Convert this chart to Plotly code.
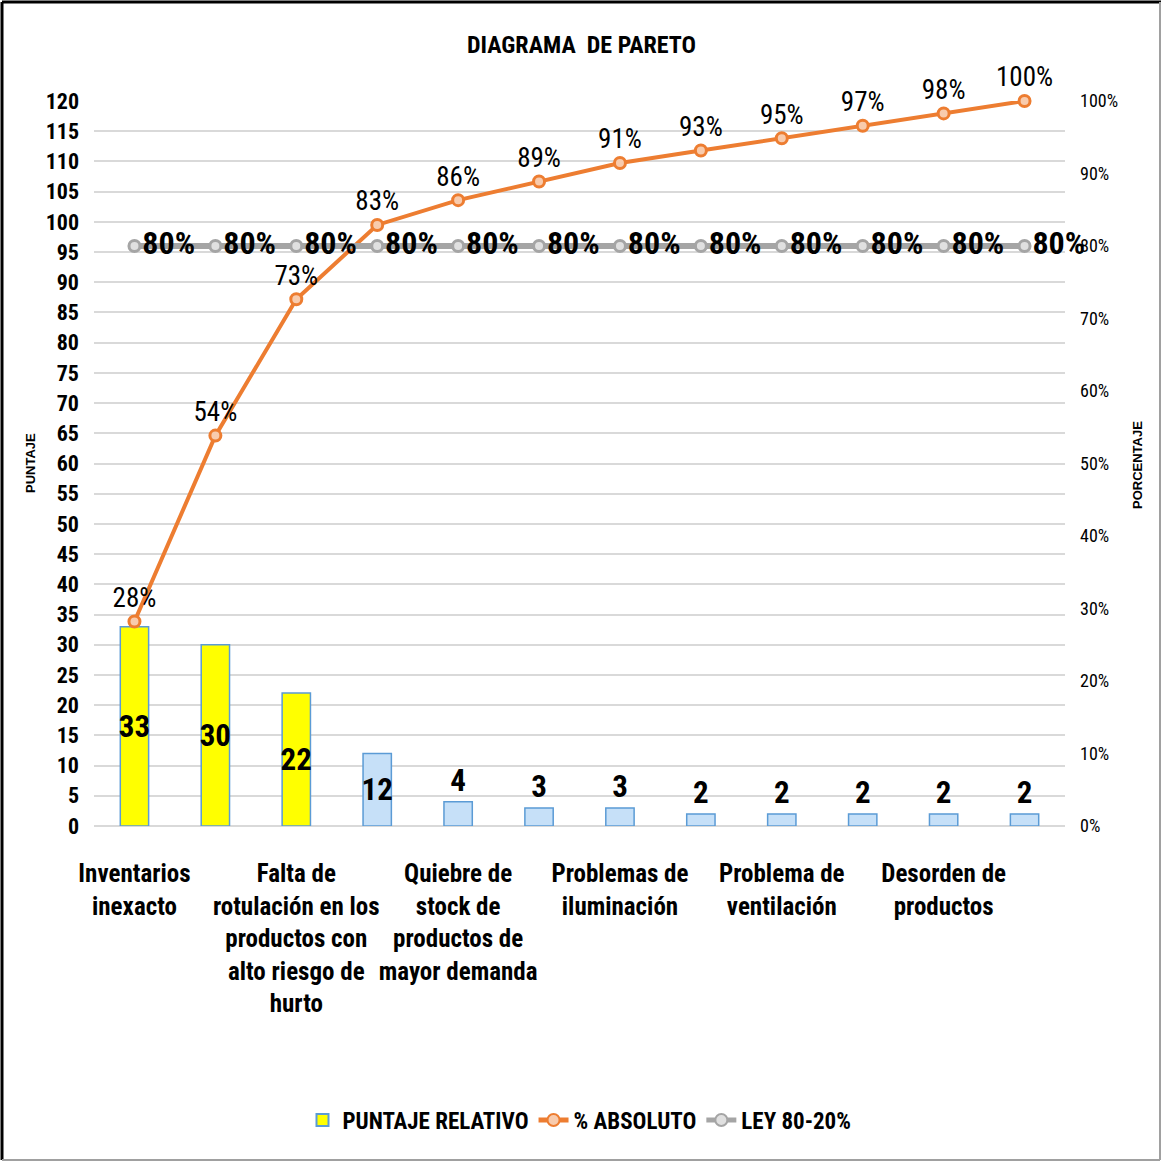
import plotly.graph_objects as go

# ---- data ----
categories = [
    "Inventarios<br>inexacto",
    "Causa 2",
    "Falta de<br>rotulación en los<br>productos con<br>alto riesgo de<br>hurto",
    "Causa 4",
    "Quiebre de<br>stock de<br>productos de<br>mayor demanda",
    "Causa 6",
    "Problemas de<br>iluminación",
    "Causa 8",
    "Problema de<br>ventilación",
    "Causa 10",
    "Desorden de<br>productos",
    "Causa 12",
]
puntaje = [33, 30, 22, 12, 4, 3, 3, 2, 2, 2, 2, 2]
ley = [0.80] * 12
shown_ticks = categories[::2]

total = sum(puntaje)
acum = []
s = 0
for v in puntaje:
    s += v
    acum.append(s / total)

FONT = "Roboto Condensed, Liberation Sans Narrow, DejaVu Sans Condensed, Roboto, sans-serif"
TFONT = "Liberation Sans, Arial, sans-serif"
bar_colors = ["#FFFF00" if i < 3 else "#C6E0F8" for i in range(len(puntaje))]
bar_textpos = ["inside" if v >= 10 else "outside" for v in puntaje]

W, H = 1163, 1162
ML, MR, MT, MB = 94, 98, 101, 336

fig = go.Figure()
fig.add_trace(go.Bar(
    x=categories, y=puntaje, name="PUNTAJE RELATIVO",
    marker=dict(color=bar_colors, line=dict(color="#5B9BD5", width=1.5)),
    width=0.35,
    text=puntaje, textposition=bar_textpos, insidetextanchor="middle", textangle=0,
    constraintext="none", cliponaxis=False,
    textfont=dict(family=FONT, size=31, color="black", weight="bold"),
))
fig.add_trace(go.Scatter(
    x=categories, y=acum, name="% ABSOLUTO", yaxis="y2",
    mode="lines+markers+text",
    line=dict(color="#ED7D31", width=4),
    marker=dict(symbol="circle", size=11, color="#F8CBAD", line=dict(color="#ED7D31", width=3)),
    texttemplate="%{y:.0%}", textposition="top center", cliponaxis=False,
    textfont=dict(family=FONT, size=27, color="black"),
))
fig.add_trace(go.Scatter(
    x=categories, y=ley, name="LEY 80-20%", yaxis="y2",
    mode="lines+markers+text",
    line=dict(color="#A5A5A5", width=6),
    marker=dict(symbol="circle", size=11, color="#E0E0E0", line=dict(color="#A5A5A5", width=3)),
    texttemplate="%{y:.0%}", textposition="middle right", cliponaxis=False,
    textfont=dict(family=FONT, size=32, color="black", weight="bold"),
))

pw = W - ML - MR
ph = H - MT - MB
def px(x):
    return (x - ML) / pw
def py(y):
    return (H - MB - y) / ph

fig.update_layout(
    width=W, height=H,
    margin=dict(l=ML, r=MR, t=MT, b=MB, autoexpand=False),
    paper_bgcolor="white", plot_bgcolor="white",
    font=dict(family=FONT, color="black"),
    title=dict(text="DIAGRAMA  DE PARETO", x=0.5, xanchor="center", y=1 - 45 / H, yanchor="middle",
               font=dict(family=FONT, size=24, color="black", weight="bold")),
    bargap=0.65,
    xaxis=dict(
        type="category", tickmode="array", tickvals=shown_ticks, ticktext=shown_ticks,
        range=[-0.5, len(categories) - 0.5],
        showgrid=False, showline=False, ticks="", ticklen=0, ticklabelstandoff=30,
        tickfont=dict(family=FONT, size=25, color="black", weight="bold"),
        tickangle=0, automargin=False,
    ),
    yaxis=dict(
        range=[0, 120], dtick=5, showgrid=True, gridcolor="#D9D9D9", gridwidth=2,
        zeroline=True, zerolinecolor="#D9D9D9", zerolinewidth=2,
        tickfont=dict(family=FONT, size=22, color="black", weight="bold"),
        ticks="", showline=False, ticklabelstandoff=14, automargin=False,
    ),
    yaxis2=dict(
        overlaying="y", side="right", range=[0, 1], dtick=0.1, tickformat=".0%",
        showgrid=False, zeroline=False, ticks="", showline=False,
        tickfont=dict(family=FONT, size=18, color="black"),
        ticklabelstandoff=14, automargin=False,
    ),
    legend=dict(
        orientation="h", x=0.5, xanchor="center", y=py(1120), yanchor="middle",
        font=dict(family=FONT, size=23, color="black", weight="bold"),
        itemsizing="constant", traceorder="normal",
    ),
    showlegend=True,
)

# axis titles
fig.add_annotation(text="PUNTAJE", xref="paper", yref="paper", x=px(30), y=py(463),
                   textangle=-90, showarrow=False, xanchor="center", yanchor="middle",
                   font=dict(family=TFONT, size=13, color="black", weight="bold"))
fig.add_annotation(text="PORCENTAJE", xref="paper", yref="paper", x=px(1137), y=py(465),
                   textangle=-90, showarrow=False, xanchor="center", yanchor="middle",
                   font=dict(family=TFONT, size=13, color="black", weight="bold"))

# outer frame
fig.add_shape(type="line", xref="paper", yref="paper", x0=px(2), x1=px(1161), y0=py(2), y1=py(2),
              line=dict(color="black", width=3))
fig.add_shape(type="line", xref="paper", yref="paper", x0=px(2), x1=px(2), y0=py(2), y1=py(1160),
              line=dict(color="black", width=3))
fig.add_shape(type="line", xref="paper", yref="paper", x0=px(1160), x1=px(1160), y0=py(2), y1=py(1160),
              line=dict(color="#A0A0A0", width=2))
fig.add_shape(type="line", xref="paper", yref="paper", x0=px(2), x1=px(1160), y0=py(1160), y1=py(1160),
              line=dict(color="#A0A0A0", width=2))

fig.write_html("out.html", config={"displayModeBar": False},
               post_script="document.body.style.margin='0';")
